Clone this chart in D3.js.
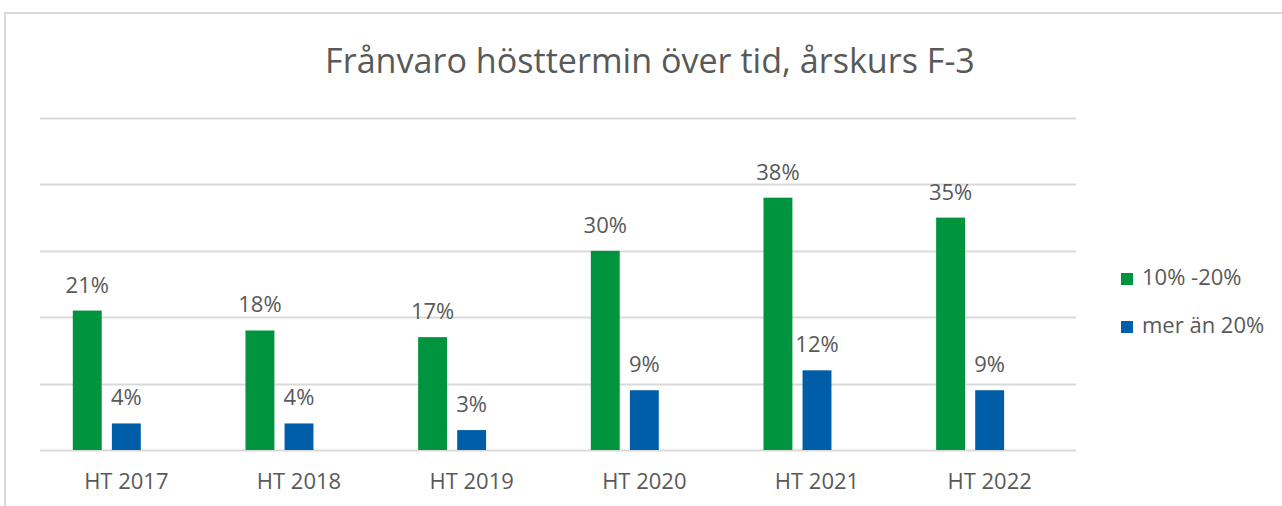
<!DOCTYPE html>
<html>
<head>
<meta charset="utf-8">
<script src="https://cdn.jsdelivr.net/npm/d3@7"></script>
<style>
  html, body { margin: 0; padding: 0; background: #fff; }
  svg { display: block; }
  text { font-family: "Open Sans", "Noto Sans", sans-serif; fill: #595959; }
</style>
</head>
<body>
<svg id="chart" width="1282" height="506"></svg>
<script>
// Data
const categories = ["HT 2017", "HT 2018", "HT 2019", "HT 2020", "HT 2021", "HT 2022"];
const seriesNames = ["10% -20%", "mer än 20%"];
const moderate = [21, 18, 17, 30, 38, 35];   // 10% -20% frånvaro
const high = [4, 4, 3, 9, 12, 9];            // mer än 20% frånvaro
const yTicks = [0, 10, 20, 30, 40, 50];
const colors = ["#00943f", "#005ea8"];

const seriesValues = [moderate, high];

const svg = d3.select("#chart");
const W = 1282, H = 506;
const labelSize = "22px";

// Outer frame (top and left edges)
svg.append("line").attr("x1", 4).attr("x2", W).attr("y1", 13).attr("y2", 13)
  .attr("stroke", "#d9d9d9").attr("stroke-width", 2);
svg.append("line").attr("x1", 5).attr("x2", 5).attr("y1", 13).attr("y2", H)
  .attr("stroke", "#d9d9d9").attr("stroke-width", 2);

// Title
const title = svg.append("text")
  .attr("x", 650).attr("y", 73)
  .attr("text-anchor", "middle")
  .style("font-size", "29px")
  .text("Frånvaro hösttermin över tid, årskurs F-3");
// fit title to its width
(function fit(t, target) {
  const w = t.node().getComputedTextLength();
  const fs = parseFloat(t.style("font-size"));
  t.style("font-size", (fs * target / w) + "px");
})(title, 650);

const plot = { left: 40, right: 1076, top: 118, bottom: 450 };

const x = d3.scaleBand().domain(categories)
  .range([plot.left, plot.right]).paddingInner(0.38).paddingOuter(0.19);

// three slots per category; the third slot is left empty
const xs = d3.scaleBand().domain([0, 1, 2]).range([0, x.bandwidth()]).paddingInner(0.26);

const y = d3.scaleLinear().domain([0, 50]).range([plot.bottom, plot.top]);

// Gridlines
svg.append("g").selectAll("line").data(yTicks).join("line")
  .attr("x1", plot.left).attr("x2", plot.right)
  .attr("y1", d => Math.round(y(d)) + 0.5).attr("y2", d => Math.round(y(d)) + 0.5)
  .attr("stroke", "#d9d9d9").attr("stroke-width", 2);

// Category axis labels
const xAxis = svg.append("g")
  .attr("transform", `translate(0,${plot.bottom})`)
  .call(d3.axisBottom(d3.scaleBand().domain(categories).range([plot.left, plot.right]))
    .tickSize(0).tickPadding(23));
xAxis.select(".domain").remove();
xAxis.selectAll("text").style("font-size", labelSize).attr("fill", "#595959")
  .style("font-family", '"Open Sans", "Noto Sans", sans-serif');

// Bars and value labels
seriesValues.forEach((vals, si) => {
  const g = svg.append("g");
  g.selectAll("rect").data(vals).join("rect")
    .attr("x", (d, i) => x(categories[i]) + xs(si))
    .attr("width", xs.bandwidth())
    .attr("y", d => y(d))
    .attr("height", d => y(0) - y(d))
    .attr("fill", colors[si]);
  g.selectAll("text").data(vals).join("text")
    .attr("x", (d, i) => x(categories[i]) + xs(si) + xs.bandwidth() / 2)
    .attr("y", d => y(d) - 18)
    .attr("text-anchor", "middle")
    .style("font-size", labelSize)
    .text(d => d + "%");
});

// Legend
const legend = svg.append("g").attr("transform", "translate(1121,0)");
const legendY = [285, 333];
seriesNames.forEach((name, i) => {
  legend.append("rect").attr("x", 0).attr("y", legendY[i] - 12)
    .attr("width", 12).attr("height", 12).attr("fill", colors[i]);
  legend.append("text").attr("x", 21).attr("y", legendY[i])
    .style("font-size", labelSize).text(name);
});
</script>
</body>
</html>
